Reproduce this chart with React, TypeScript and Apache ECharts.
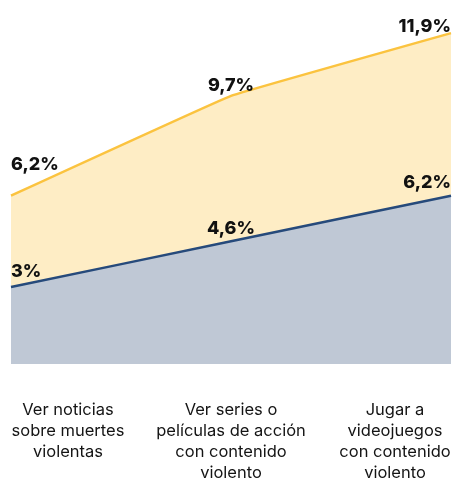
import React, { useEffect, useRef } from "react";
import * as echarts from "echarts";

const categories = [
  "Ver noticias\nsobre muertes\nviolentas",
  "Ver series o\npelículas de acción\ncon contenido\nviolento",
  "Jugar a\nvideojuegos\ncon contenido\nviolento",
];
const yellowValues = [6.2, 9.7, 11.9];
const blueValues = [3, 4.6, 6.2];
const fmt = (v: number) => String(v).replace(".", ",") + "%";

const labelAdjust = [
  { align: "left", dx: 0 },
  { align: "center", dx: 0 },
  { align: "right", dx: 0 },
];
const yellowLift = [32, 11, 8];
const blueLift = [16, 14, 14];
const catPadding = [
  [0, 0, 0, 114],
  [0, 0, 0, 0],
  [0, 112, 0, 0],
];

export default function App() {
  const ref = useRef<HTMLDivElement>(null);
  useEffect(() => {
    if (!ref.current) return;
    const chart = echarts.init(ref.current, undefined, { renderer: "svg" });
    const labelFont = {
      fontFamily: "Inter, 'DejaVu Sans', sans-serif",
      fontWeight: 800,
      fontSize: 18,
      color: "#111111",
    };
    const mkData = (vals: number[], lifts: number[]) =>
      vals.map((v, i) => ({
        value: v,
        label: {
          show: true,
          position: "top",
          distance: 0,
          verticalAlign: "middle",
          align: labelAdjust[i].align,
          offset: [labelAdjust[i].dx, -lifts[i]],
          formatter: () => fmt(v),
          ...labelFont,
        },
      }));
    chart.setOption({
      animation: false,
      grid: {
        left: 11,
        right: 5,
        top: 16,
        bottom: 122,
        containLabel: false,
        outerBoundsMode: "none",
      },
      xAxis: {
        type: "category",
        boundaryGap: false,
        data: categories.map((c, i) => ({
          value: c,
          textStyle: { padding: catPadding[i] },
        })),
        axisLine: { show: false },
        axisTick: { show: false },
        splitLine: { show: false },
        axisLabel: {
          interval: 0,
          hideOverlap: false,
          margin: 34,
          fontSize: 16.5,
          lineHeight: 21,
          color: "#141414",
          fontFamily: "Inter, 'DejaVu Sans', sans-serif",
        },
      },
      yAxis: {
        type: "value",
        min: 0.3,
        max: 12.5,
        show: false,
        splitLine: { show: false },
      },
      series: [
        {
          type: "line",
          data: mkData(yellowValues, yellowLift),
          smooth: 0.05,
          symbol: "circle",
          symbolSize: 0,
          showSymbol: true,
          clip: false,
          lineStyle: { color: "#FBC33F", width: 2.5 },
          itemStyle: { color: "#FBC33F" },
          areaStyle: { color: "#FEEDC5", opacity: 1 },
          z: 2,
        },
        {
          type: "line",
          data: mkData(blueValues, blueLift),
          smooth: 0.05,
          symbol: "circle",
          symbolSize: 0,
          showSymbol: true,
          clip: false,
          lineStyle: { color: "#264A7B", width: 2.5 },
          itemStyle: { color: "#264A7B" },
          areaStyle: { color: "#BFC8D5", opacity: 1 },
          z: 3,
        },
      ],
    });
    return () => chart.dispose();
  }, []);
  return (
    <div
      ref={ref}
      style={{ position: "fixed", left: 0, top: 0, width: 456, height: 486 }}
    />
  );
}
